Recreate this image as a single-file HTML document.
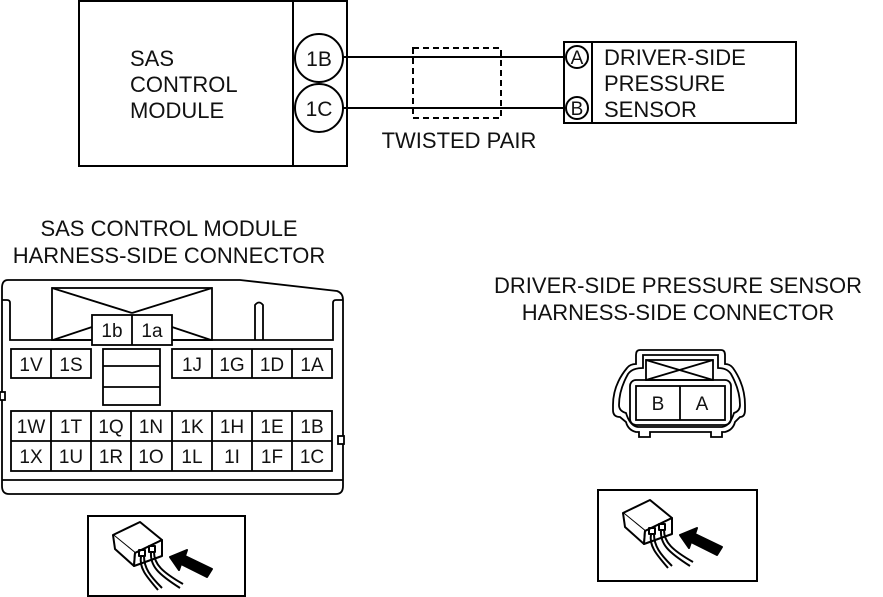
<!DOCTYPE html>
<html><head><meta charset="utf-8"><style>
html,body{margin:0;padding:0;background:#fff;}
svg{display:block;}
text{font-family:"Liberation Sans",Arial,sans-serif;fill:#111;}
</style></head><body>
<svg width="883" height="597" viewBox="0 0 883 597" xmlns="http://www.w3.org/2000/svg">
<defs>
<g id="icon" fill="none" stroke="#000" stroke-width="2" stroke-linejoin="round">
  <path d="M25 19 L52 6 L74 24 L47 37 Z" fill="#fff"/>
  <path d="M25 19 L27 33 L46 50 L47 37" fill="#fff"/>
  <path d="M47 37 L74 24 L74 40 L46 50 Z" fill="#fff"/>
  <rect x="51" y="34" width="6" height="6"/>
  <rect x="61" y="30" width="6" height="6"/>
  <path d="M53 40 C51 52 58 60 70 74"/>
  <path d="M56 40 C56 52 62 60 74 72"/>
  <path d="M63 36 C62 50 70 58 92 72"/>
  <path d="M66 36 C66 48 74 56 95 68"/>
  <path d="M82 41 L99 34 L97 40 L124 53 L119 61 L93 48 L91 54 Z" fill="#000"/>
</g>
</defs>
<g fill="none" stroke="#000" stroke-width="2">
  <rect x="79" y="1" width="268" height="165"/>
  <line x1="293" y1="1" x2="293" y2="166"/>
  <circle cx="319" cy="58" r="24"/>
  <circle cx="319" cy="108" r="24"/>
  <line x1="343" y1="57" x2="565" y2="57"/>
  <line x1="343" y1="108" x2="565" y2="108"/>
  <rect x="413" y="48" width="88" height="70" stroke-dasharray="6,4"/>
  <rect x="564" y="42" width="232" height="81"/>
  <line x1="592" y1="42" x2="592" y2="123"/>
  <circle cx="577" cy="57" r="11" fill="#fff"/>
  <circle cx="577" cy="108" r="11" fill="#fff"/>
</g>
<g font-size="22">
  <text x="130" y="66">SAS</text>
  <text x="130" y="92">CONTROL</text>
  <text x="130" y="118">MODULE</text>
  <text x="604" y="65">DRIVER-SIDE</text>
  <text x="604" y="91">PRESSURE</text>
  <text x="604" y="117">SENSOR</text>
  <text x="459" y="148" text-anchor="middle">TWISTED PAIR</text>
  <text x="169" y="236" text-anchor="middle">SAS CONTROL MODULE</text>
  <text x="169" y="263" text-anchor="middle">HARNESS-SIDE CONNECTOR</text>
  <text x="678" y="293" text-anchor="middle">DRIVER-SIDE PRESSURE SENSOR</text>
  <text x="678" y="320" text-anchor="middle">HARNESS-SIDE CONNECTOR</text>
</g>
<g font-size="21" text-anchor="middle">
  <text x="319" y="66">1B</text>
  <text x="319" y="116">1C</text>
  <text x="577" y="64" font-size="19">A</text>
  <text x="577" y="115" font-size="19">B</text>
</g>
<g fill="none" stroke="#000" stroke-width="1.8">
  <path d="M8 280 L240 280 L337 291 Q343 293 343 300 L343 486 Q343 494 336 494 L9 494 Q2 494 2 486 L2 288 Q2 280 8 280 Z"/>
  <path d="M2 300 L7 300 Q10 300 10 303 L10 340 L333 340 L333 303 Q333 300 336 300 L343 300"/>
  <path d="M2 480 L343 480"/>
  <path d="M255 340 L255 305 Q259 300 263 305 L263 340"/>
  <rect x="0" y="392" width="5" height="8" fill="#fff"/>
  <rect x="338" y="436" width="6" height="8" fill="#fff"/>
  <rect x="52" y="288" width="160" height="52"/>
  <line x1="52" y1="288" x2="132" y2="313"/>
  <line x1="212" y1="288" x2="132" y2="313"/>
  <line x1="53" y1="340" x2="92" y2="327"/>
  <line x1="211" y1="340" x2="172" y2="327"/>
  <rect x="92" y="315" width="80" height="30" fill="#fff"/>
  <line x1="132" y1="315" x2="132" y2="345"/>
  <rect x="11" y="349" width="80" height="29"/>
  <line x1="51" y1="349" x2="51" y2="378"/>
  <rect x="172" y="349" width="160" height="29"/>
  <line x1="212" y1="349" x2="212" y2="378"/>
  <line x1="252" y1="349" x2="252" y2="378"/>
  <line x1="292" y1="349" x2="292" y2="378"/>
  <rect x="103" y="349" width="57" height="56"/>
  <line x1="103" y1="366" x2="160" y2="366"/>
  <line x1="103" y1="387" x2="160" y2="387"/>
  <rect x="11" y="411" width="321" height="60"/>
  <line x1="11" y1="441" x2="332" y2="441"/>
  <line x1="51" y1="411" x2="51" y2="471"/>
  <line x1="91" y1="411" x2="91" y2="471"/>
  <line x1="131" y1="411" x2="131" y2="471"/>
  <line x1="172" y1="411" x2="172" y2="471"/>
  <line x1="212" y1="411" x2="212" y2="471"/>
  <line x1="252" y1="411" x2="252" y2="471"/>
  <line x1="292" y1="411" x2="292" y2="471"/>
</g>
<g font-size="19" text-anchor="middle">
  <text x="112" y="337">1b</text><text x="152" y="337">1a</text>
  <text x="31" y="371">1V</text><text x="71" y="371">1S</text>
  <text x="192" y="371">1J</text><text x="232" y="371">1G</text><text x="272" y="371">1D</text><text x="312" y="371">1A</text>
  <text x="31" y="433">1W</text><text x="71" y="433">1T</text><text x="111" y="433">1Q</text><text x="151" y="433">1N</text>
  <text x="192" y="433">1K</text><text x="232" y="433">1H</text><text x="272" y="433">1E</text><text x="312" y="433">1B</text>
  <text x="31" y="463">1X</text><text x="71" y="463">1U</text><text x="111" y="463">1R</text><text x="151" y="463">1O</text>
  <text x="192" y="463">1L</text><text x="232" y="463">1I</text><text x="272" y="463">1F</text><text x="312" y="463">1C</text>
</g>
<g fill="none" stroke="#000" stroke-width="1.8">
  <path d="M640 350 L721 350 Q725 350 725 355 L725 364 Q730 364 733 368 Q745 385 745 405 L745 410 Q745 417 740 417 L735 422 Q733 430 725 432 L722 432 L722 437 L711 437 L711 432 L650 432 L650 437 L639 437 L639 432 L636 432 Q628 430 626 422 L620 417 Q613 417 613 410 L613 405 Q613 385 627 368 Q630 364 636 364 L636 355 Q636 350 640 350 Z"/>
  <path d="M643 355 L718 355 L718 368 Q727 368 731 374 Q740 390 740 405 Q740 411 734 413 Q730 426 722 427 L638 427 Q630 426 626 413 Q619 411 619 405 Q619 390 628 374 Q632 368 643 368 Z"/>
  <rect x="630" y="380" width="101" height="45" rx="6"/>
  <rect x="646" y="360" width="67" height="20"/>
  <line x1="646" y1="360" x2="713" y2="380"/>
  <line x1="713" y1="360" x2="646" y2="380"/>
  <rect x="636" y="386" width="89" height="34" fill="#fff"/>
  <line x1="680" y1="386" x2="680" y2="420"/>
</g>
<g font-size="19" text-anchor="middle">
  <text x="658" y="410">B</text><text x="702" y="410">A</text>
</g>
<rect x="88" y="516" width="157" height="80" fill="none" stroke="#000" stroke-width="2"/>
<use href="#icon" transform="translate(88,516)"/>
<rect x="598" y="490" width="159" height="91" fill="none" stroke="#000" stroke-width="2"/>
<use href="#icon" transform="translate(598,494)"/>
</svg>
</body></html>
